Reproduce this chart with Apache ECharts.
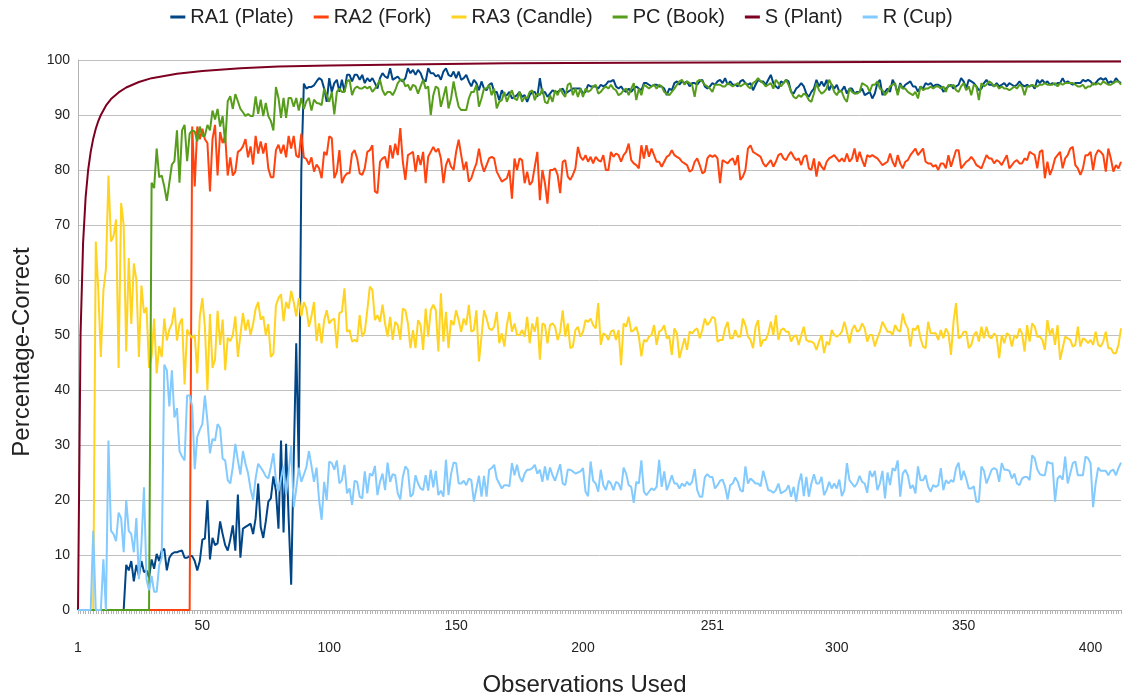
<!DOCTYPE html>
<html><head><meta charset="utf-8">
<script src="https://cdn.jsdelivr.net/npm/echarts@6/dist/echarts.min.js"></script>
<style>html,body{margin:0;padding:0;background:#fff}#c{width:1123px;height:698px}</style>
</head><body><div id="c"></div>
<script>
const N = 412;
const categories = Array.from({length: N}, (_, i) => String(i + 1));
const xTickIndex = [0, 49, 99, 149, 199, 250, 299, 349, 399];
const xTickLower = [true, false, true, false, true, false, true, false, true];
const seriesNames = ['RA1 (Plate)', 'RA2 (Fork)', 'RA3 (Candle)', 'PC (Book)', 'S (Plant)', 'R (Cup)'];
const colors = ['#004586', '#ff420e', '#ffd320', '#579d1c', '#7e0021', '#83caff'];

const ra1 = [0,0,0,0,0,0,0,0,0,0,0,0,0,0,0,0,0,0,0,
8.2,7.2,8.9,5.2,8.2,6.2,8.9,6.9,7.2,5.9,9.2,7.5,10.2,8.9,10.8,11.1,7.2,9.5,10.2,10.5,10.5,10.7,10.8,9.5,9.5,9.8,9.8,8.9,7.2,8.9,12.8,13,20,9.2,13.1,11.8,12.1,16.1,13.8,11.8,10.8,12.8,15.4,10.8,21,9.5,14.8,15.1,15.4,15.7,13.8,16.7,23,15.1,13.1,16.1,19.7,20.3,24.3,21.6,14.8,30.8,14.1,30.2,16.7,4.6,27,48.5,25.6,80,95.7,94.8,95.1,95.1,95.4,96.1,
96.7,96.4,94.8,92.4,96.7,94.2,95.8,96.4,94.2,96.4,94.2,97.3,97.3,96.1,97.3,97.3,96.4,97.3,95.8,96.7,96.1,96.7,95.8,94.8,96.7,97.6,97,96.7,98.5,96.4,96.7,97,96.4,96.1,96.7,98.5,97.6,98.2,97.3,98.2,97.6,96.4,96.1,98.5,97.6,97.6,97,97.3,96.4,97.9,98.5,97.3,97,97.9,96.7,97.9,96.4,96.7,97.3,96.1,95.2,96.4,95.8,94.5,96.1,94.8,94.5,95.5,95.8,94.2,94.2,92.7,
94.5,93.6,93.6,94.2,93,93.3,93.6,94.2,93.3,93.6,92.4,93.6,94.2,94.2,93.3,96.7,93.9,94.2,93.3,93.9,94.5,94.2,94.2,94.5,94.8,93.9,94.2,94.5,94.8,94.8,94.8,94.8,93.9,94.2,95.5,95.2,95.2,95.2,94.8,95.5,95.2,95.5,96.1,96.1,96.4,95.2,94.8,95.2,94.5,94.2,94.8,94.2,94.8,95.2,94.8,94.5,95.8,95.8,95.5,95.2,95.5,95.5,95.2,95.2,94.8,93.6,94.8,94.5,95.8,96.1,95.5,96.1,95.8,96.1,95.2,95.8,95.8,95.5,96.1,96.4,
95.2,94.8,95.2,95.8,95.5,96.1,96.4,95.8,96.7,95.5,96.1,95.5,95.5,95.2,96.1,96.4,95.8,95.5,95.8,94.5,95.5,96.4,96.1,96.1,95.5,96.4,97.3,95.8,95.2,94.8,96.1,95.8,96.4,96.1,94.2,93.9,94.8,95.2,95.8,95.2,93.9,93.3,94.2,94.8,96.4,95.2,96.1,95.2,96.4,94.5,95.5,94.8,95.5,94.2,94.5,95.2,93.9,94.8,94.8,93.9,94.2,94.2,94.8,93.6,93.9,94.2,93,93.9,95.8,96.4,93.6,94.2,94.8,94.2,96.4,95.5,93.9,95.8,94.8,
95.5,95.8,96.1,95.2,95.2,94.2,95.2,94.8,95.8,95.5,95.8,95.2,95.5,95.5,95.2,94.2,94.8,95.2,95.5,94.8,95.2,95.5,96.7,96.1,94.8,96.4,96.1,95.8,95.2,94.5,94.8,95.8,96.4,95.5,95.5,95.2,95.8,95.2,95.5,95.8,95.2,95.8,95.5,95.2,95.5,96.1,95.5,95.2,95.5,95.2,95.5,94.8,96.4,95.8,96.4,95.8,96.1,95.5,95.8,95.5,95.8,95.8,96.7,95.8,96.1,95.8,95.5,95.8,95.8,95.8,96.4,96.1,96.4,96.1,95.5,95.8,96.4,96.7,96.4,96.7,95.8,96.1,95.8,96.7,96.1,95.8];

const ra2 = [0,0,0,0,0,0,0,0,0,0,0,0,0,0,0,0,0,0,0,0,0,0,0,0,0,0,0,0,0,0,0,0,0,0,0,0,0,0,0,0,0,0,0,0,0,
87.9,77,87.9,85.6,87.5,85.6,84.9,76.1,85.6,88.2,79,86.9,84.9,86.2,79,82.3,79,79.7,83.3,83.6,84.3,85.6,82.3,84.3,81,86.2,83,85.2,83,84.9,80.3,78.7,78.7,83.6,84.6,83,84.6,82.3,86.2,83.9,86.2,82.6,82.3,86.6,82.3,82,81,82.3,79.7,81,
80.3,78.5,83.3,82.7,86.1,85.8,78.5,79.7,83.6,77.6,78.8,79.4,79.4,83,83.6,82.1,79.4,79.1,80.3,83.3,83.6,84.5,76.1,75.8,81.5,82.1,82.4,80.3,84.5,82.1,84.8,82.7,87.6,81.5,78.2,82.7,83,83.3,79.7,82.7,80.9,83.3,77.6,82.4,83.3,84.2,83.3,83.9,82.1,77.6,80.9,82.1,80.6,80,83.3,85.5,82.7,80,81.5,77.9,78.5,80,81.2,83.9,81.2,79.7,80.9,82.1,82.4,82.1,79.7,78.8,
77.9,78.2,78.5,80,74.8,82.1,80,82.1,81.8,77.6,79.7,77.3,77.9,80.6,83.3,74.5,80,77.6,73.9,80,80,80.3,79.1,75.8,81.5,81.8,78.8,78.2,79.1,80.3,84.2,82.4,81.8,82.7,81.5,82.4,81.2,82.4,81.8,81.5,82.7,80,80,83.3,82.4,83,82.7,81.5,82.7,83.3,84.8,81.8,81.2,80.9,80.3,84.5,82.1,84.5,82.4,83.9,82.7,81.5,81.5,80.6,81.5,82.4,82.7,83.6,82.7,82.4,82.1,81.5,81.2,80.9,79.7,80,81.5,82.1,80.9,79.4,
79.7,82.1,82.7,82.4,82.7,82.1,77.6,81.8,81.5,81.2,81.8,82.1,80.9,82.7,78.2,78.8,80,83.9,84.5,83.3,83,82.7,82.4,81.2,80.6,81.2,81.8,80.6,81.5,82.7,83,82.1,81.8,82.7,83.3,82.4,81.8,82.1,80.9,82.4,82.7,80.3,80,82.1,78.8,81.5,80.6,80,81.5,82.1,82.4,82.7,82.1,81.5,82.1,81.5,83,81.5,82.1,83.9,81.5,83.3,81.8,80.6,82.7,82.4,82.7,82.4,82.1,81.5,80.9,81.2,81.5,83,81.5,80.6,82.7,81.2,80.3,
81.5,81.8,82.7,83.3,83.9,82.7,83.3,83.9,81.5,81.2,81.2,80.6,80.9,80,81.2,81.2,80.3,82.7,80.6,82.1,83.6,83.6,80.3,80.9,81.5,81.8,82.4,81.8,80.9,80.6,80.3,81.5,82.7,82.1,82.1,81.2,81.8,81.5,80.9,81.8,82.7,80.3,80.9,81.5,81.8,81.2,81.2,82.1,81.8,83.3,83,82.7,80.3,83.3,83.6,78.5,81.5,79.1,80.3,82.1,82.7,83.3,80.3,82.1,82.7,83.9,84.2,80.9,80.3,79.1,80.3,82.7,82.7,83.3,80,82.7,83.6,83.3,82.7,79.7,83.9,82.1,79.7,80.9,80.3,81.5];

const ra3 = [0,0,0,0,0,0,0,
67,58,46,58,62,79,67,68,71,44,74,70,47,64,52,63,60,46,59,54,55,44,46,53,43,48,46,53,49,51,52,55,49,52,53,41,51,
50,49.5,50,43,53.4,56.7,51.5,40,53.8,44,45.6,54.4,48.2,52.8,43.6,49.5,48.9,50,53.4,46,50,54,50.8,52.8,50,52,54.8,56,52.8,53.4,50,52,46,46.6,55.4,56.7,57.4,52.5,56,54.8,58,56,53.4,56.7,53.4,56,54.8,51.5,53.4,56,48.9,
52.1,48.5,52.7,54.5,52.1,52.7,53,47.6,54,54.2,58.5,50.6,50.9,48.8,49.1,48.8,53.6,49.7,50.6,54.5,58.8,58.2,52.7,53.6,52.4,55.5,52.1,49.7,53.3,49.1,52.4,51.8,49.1,54.8,54.5,52.1,47.6,50.9,47.6,52.7,51.8,47.3,54.8,49.7,54.5,55.5,54.5,47,57.6,48.8,54.2,47.6,52.7,51.8,54.5,52.7,50.6,53,51.8,55.5,50.6,50.9,54.5,45.2,49.7,54.5,53,51.2,50.9,51.5,54.2,48.5,50.3,47.9,51.8,54.2,50.6,52.1,50,50,
50.9,49.7,53.3,48.5,52.1,50.6,53.3,45.5,52.1,51.8,48.5,51.8,52.1,51.5,49.1,50.6,54.5,49.7,52.1,47.6,47.9,50.9,51.5,49.7,50.6,52.7,52.4,53,51.8,51.2,55.8,48.2,50.3,50,49.1,50.6,50.9,49.1,50.9,44.5,52.1,51.5,53.3,50.6,50.9,51.5,49.7,46.1,49.1,48.8,49.7,50,51.8,48.2,50.6,50.9,51.8,49.4,49.7,46.4,51.2,50.3,45.8,47.6,49.4,47.3,50.6,50.3,50.9,51.2,49.4,50.9,53,51.8,52.4,
53.3,53,48.8,49.1,49.1,51.2,52.4,49.4,49.4,50.9,49.7,49.7,53,51.8,49.7,49.1,47.6,51.5,52.7,47.9,49.1,49.1,50.3,52.4,50,53.6,49.1,50.9,51.2,50.6,50.6,48.8,49.7,50,48.2,50,51.5,49.1,48.8,48.8,48.5,47.3,48.8,50,46.7,48.8,48.2,50.9,50,49.7,50,50.6,52.4,50.6,48.5,50.9,51.8,50.6,50.9,52.1,51.2,48.8,50,50,47.9,49.4,50.6,52.4,51.5,50.6,50.6,50,51.8,50.9,50.6,
53.9,52.1,51.2,47.9,51.2,50.9,51.8,49.4,47.9,47.6,52.4,50.3,50.3,50.3,49.1,50.9,49.4,51.2,50.3,46.4,52.4,55.8,49.4,49.7,50.6,50.6,47.6,48.2,50,50.6,48.8,51.5,49.4,51.5,49.7,49.4,50.3,49.7,45.8,50,48.5,50.3,50,47.9,50,49.4,51.2,50.3,47,51.8,48.8,52.1,51.5,49.7,49.7,49.1,47.3,52.7,50,51.2,48.2,51.8,45.5,47.6,49.7,49.4,49.1,47.9,48.2,51.5,47.9,49.4,49.1,48.5,49.1,48.2,50.6,48.2,47.9,48.8,50.6,47.6,47.6,46.7,46.7,48.2,51.2];

const pc = [0,0,0,0,0,0,0,0,0,0,0,0,0,0,0,0,0,0,0,0,0,0,0,0,0,0,0,0,0,
77.7,76.7,83.9,78.7,79,77,74.4,77.7,81,81.6,87.2,77.7,87.2,88.2,81.6,86.6,87.2,87,85.2,87.9,
86.2,86.2,88.2,87.2,90.8,89.2,91.1,87.9,89.8,84.9,92.5,93.4,91.1,93.8,92.5,91.1,90.5,89.8,90.2,89.8,89.8,93.4,90.2,92.8,89.8,92.2,89.8,88.9,87.2,95.1,93.1,89.5,93.1,89.5,93.1,93.1,91.5,93.1,90.8,93.1,91.1,92.5,93.1,90.8,92.8,92.2,
92.1,91.8,94.8,93.6,92.4,94.2,90.1,94.2,94.8,94.2,94.2,96.1,96.4,93.6,94.8,95.2,94.8,94.8,95.2,94.8,95.2,94.2,94.8,95.5,96.4,94.5,93.6,94.2,94.2,93.6,94.5,95.8,96.4,96.4,95.2,95.5,94.5,95.5,95.2,93.9,95.2,96.4,94.8,95.2,90,93.6,95.2,94.8,91.5,93.3,95.2,91.2,93,96.1,93.6,91.5,90.9,90.9,90.9,93,94.2,94.2,95.5,91.5,93,94.8,94.8,95.5,93.6,94.8,91.2,92.4,
92.7,94.2,92.4,93.6,94.5,93,92.7,94.2,92.4,93.3,93,94.2,94.5,92.7,93.9,93.6,94.8,92.4,92.1,93.6,92.4,94.5,93.6,94.8,93.9,93.3,95.5,95.8,93.6,94.8,93.3,94.8,93.3,94.8,94.2,94.5,95.2,95.5,93.9,94.2,94.8,95.2,94.8,95.5,94.8,94.5,93.6,93.9,94.5,94.8,93.6,94.8,95.8,92.7,94.8,93.6,95.5,95.2,94.8,95.2,95.5,94.8,95.5,95.2,94.2,93.9,93.6,94.2,94.8,95.5,96.1,96.4,95.5,96.1,95.8,95.5,93.3,96.1,96.4,96.1,
95.5,95.2,94.8,94.2,95.5,95.5,95.5,95.2,95.2,95.8,95.5,95.2,95.5,95.8,95.2,95.5,95.8,95.2,94.8,95.8,96.1,96.7,96.1,95.8,95.2,95.5,95.8,94.8,96.4,95.8,95.2,95.8,96.4,95.5,94.2,93.3,93,93.6,93.3,93.9,93.6,92.7,92.4,93.9,95.8,94.5,93.9,94.2,94.8,96.4,95.5,94.2,93.6,94.5,94.2,93,92.4,94.8,94.2,93.9,93.9,94.2,95.8,95.5,95.2,94.2,95.5,95.5,96.1,94.8,94.5,93.6,94.2,95.2,95.5,95.8,93.6,95.5,94.8,
94.8,94.2,93.9,93.6,94.2,93,95.2,94.5,94.8,94.8,95.2,94.8,95.2,95.2,94.8,95.2,94.2,95.5,95.2,95.5,94.5,94.2,95.2,95.8,94.5,95.2,93.6,95.5,95.2,92.7,95.8,95.2,95.5,96.1,95.8,95.2,95.5,94.8,95.2,94.8,94.8,94.5,94.8,95.2,94.8,95.5,95.2,93.6,95.2,95.2,95.5,95.2,95.2,95.5,95.5,95.8,95.5,95.5,95.5,95.8,95.2,95.8,95.5,95.8,95.8,95.8,95.8,95.5,95.2,95.2,95.5,94.8,95.2,95.2,95.8,95.5,95.8,95.5,96.1,95.8,95.5,95.5,95.8,96.1,96.1,95.5];

const cup = [0,0,0,0,0,0,14.4,0,0,0,9.2,0,30.8,14.4,13.8,12.5,17.7,16.7,10.5,20,14.4,13.8,10.5,16.7,5.6,12,22.3,5.6,3.6,6.2,3.3,3.3,8.2,9.5,44.6,43.6,37,43.6,35,36.7,28.9,27.9,27.2,39,39,37,25.6,31.5,32.8,33.8,39,34.4,28.5,31.1,30.8,33.8,33.1,27.5,27.2,23.6,23,26,30.2,27.2,24.6,28.9,26.6,24.9,22,20,24,26.6,25.9,25.2,24.3,23.9,26,28.5,23.6,21.6,23.9,26.2,21,25,29.8,18.7,22,25.9,23.3,24.6,26,28.9,26.2,23.3,25.9,
20,16.4,23.3,20,27,26.7,25.5,27.2,23,23.6,26.4,21.2,22.1,19.1,23.5,23.3,20.6,20.3,25.2,21.2,24.8,24.4,26.2,20.9,23.3,24.8,21.8,26.8,23.3,24.7,24.5,21.2,20.1,24.2,26.1,25.5,20.6,21.1,24.5,23,22.1,21.8,24.5,21.7,25.5,22.3,25.3,20.9,21.7,20.6,27.3,20.9,24.7,26.8,26.7,23,23,23.5,22.7,23.9,23.6,19.7,22.1,24.4,20.6,24.4,20.6,25.5,25.8,26.4,23.9,23,22.1,22.7,22.7,22.5,26.7,24.5,26.4,24.2,
23.3,24.8,25.5,25.5,25.8,26.4,24.8,25.5,23.3,26.1,23.6,25.9,24.5,23.5,25,26.5,23,22.7,25.5,25.5,25.2,24.8,25,25.2,25.8,21.5,20.7,27,23.5,23,21.5,25.5,22.7,21.8,23.5,23,21.8,23.3,23,21.8,25.9,24.8,22.7,22.4,19.5,23.3,23,27.2,21.5,20.9,21.5,22.1,21.8,22.4,27.3,22.4,25.2,21.8,23,24.5,23,23,22.1,23,22.5,23.3,22.7,23.3,25.6,21.8,20.6,20.6,24.1,24.7,24.2,
24.2,22.1,22.7,23.5,23.7,22.4,20.1,22.7,23,24.1,23.3,21.8,21.5,26.1,23,23.9,23.5,23,23,22.5,25.3,23.6,21.8,21.7,21.3,21.8,23,21.2,21.5,21.8,22.7,20.6,22.4,19.7,23,24.8,20.7,24.2,20.6,23,24.7,23,23,24.2,20.9,21.8,23.3,22.1,23,22.1,23.7,20.7,21.8,26.7,23.6,23,22.4,23,24.4,23.3,23,21.3,25.3,24.2,25.3,21.8,23,25.3,20.3,25,22.7,25.8,25.3,27.2,20.6,
24.8,25.5,24.5,22.1,22.7,21.2,26.1,23.6,23.6,24.5,22.4,21.5,22.7,22.4,22.7,25.8,21.8,23.6,23,23.6,23.3,25.8,26.8,23.6,25.3,23.9,22.1,22.1,22.5,19.7,19.7,26.1,25.3,23,24.2,25.5,25.8,25.5,23.3,26.7,25.5,25.5,25.3,23.9,24.8,23,22.7,23.9,24.2,24.2,23.6,28.1,27.6,25.6,24.7,24.5,24.5,27,26.7,26.7,19.7,23.9,24.4,23.7,27.9,23,24.8,26.7,27,24.5,24.5,24.5,27.9,27.6,26.7,18.7,23,25.9,25.3,25.3,25.3,24.5,25.3,25.5,24.5,25.8,26.8];

// S (Plant): smooth curve read at sample observations
const plantObs = [1,2,3,4,5,6,7,8,9,10,12,14,17,20,25,30,40,50,65,80,100,130,170,220,280,350,412];
const plantVal = [0,50,66.7,75,80,83.3,85.7,87.5,88.9,90,91.7,92.9,94.1,95,96,96.7,97.5,98,98.5,98.8,99,99.2,99.4,99.5,99.6,99.7,99.75];

const lineData = [ra1, ra2, ra3, pc, null, cup];
const font = 'Liberation Sans, Arial, sans-serif';

const series = seriesNames.map((name, k) => {
  let data;
  if (k === 4) data = plantObs.map((o, i) => [String(o), plantVal[i]]);
  else data = lineData[k];
  return {
    name, type: 'line', data, showSymbol: false, symbol: 'none',
    lineStyle: {width: 2, color: colors[k]}, itemStyle: {color: colors[k]},
    animation: false
  };
});

const chart = echarts.init(document.getElementById('c'), null, {renderer: 'canvas'});
chart.setOption({
  animation: false,
  color: colors,
  textStyle: {fontFamily: font},
  legend: {
    top: 2, left: 'center', itemWidth: 15, itemHeight: 3, itemGap: 20, icon: 'rect',
    textStyle: {fontSize: 20, color: '#222', fontFamily: font},
    data: seriesNames
  },
  grid: {left: 78, right: 2, top: 60, bottom: 88, containLabel: false, outerBoundsMode: 'none'},
  xAxis: {
    type: 'category', data: categories, boundaryGap: false,
    name: 'Observations Used', nameLocation: 'middle', nameGap: 63,
    nameTextStyle: {fontSize: 24, color: '#222', fontFamily: font, padding: [0, 30, 0, 0]},
    axisLine: {show: true, lineStyle: {color: '#b3b3b3', width: 1}},
    axisTick: {show: true, interval: 0, length: 4, lineStyle: {color: '#b3b3b3'}},
    axisLabel: {
      interval: (idx) => xTickIndex.includes(idx),
      formatter: (val, idx) => { const k = xTickIndex.indexOf(idx); return xTickLower[k] ? '\n' + val : val; },
      fontSize: 14, color: '#222', lineHeight: 22, margin: 5, fontFamily: font, hideOverlap: false
    },
    splitLine: {show: false}
  },
  yAxis: {
    type: 'value', min: 0, max: 100, interval: 10,
    name: 'Percentage-Correct', nameLocation: 'middle', nameGap: 44,
    nameTextStyle: {fontSize: 24, color: '#222', fontFamily: font, padding: [0, 34, 0, 0]},
    axisLine: {show: true, lineStyle: {color: '#b3b3b3'}},
    axisTick: {show: false},
    axisLabel: {fontSize: 14, color: '#222', margin: 8, fontFamily: font},
    splitLine: {show: true, lineStyle: {color: '#c0c0c0', width: 1}}
  },
  series
});
</script>
</body></html>
